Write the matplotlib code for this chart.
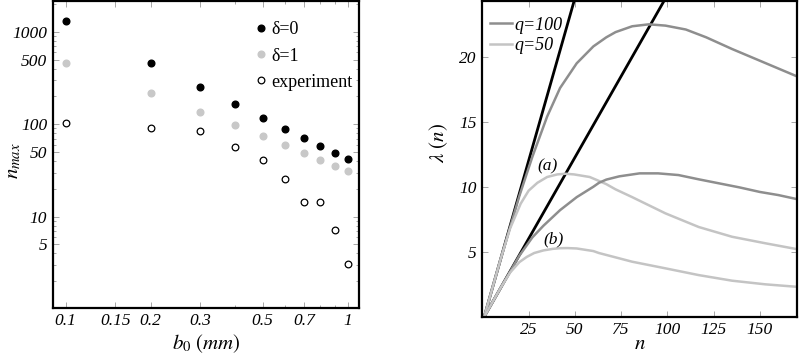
import matplotlib
matplotlib.use("Agg")
import matplotlib.pyplot as plt
from matplotlib.ticker import FixedLocator, NullFormatter

plt.rcParams['font.family'] = ['Liberation Serif', 'DejaVu Serif']
plt.rcParams['mathtext.fontset'] = 'stix'

# left panel: n_max against b0
b0 = [0.1, 0.2, 0.3, 0.4, 0.5, 0.6, 0.7, 0.8, 0.9, 1.0]
nmax_d0 = [1325, 465, 253, 165, 118, 89.5, 71.6, 58.2, 48.9, 41.8]
nmax_d1 = [465, 217, 137, 97.5, 74.7, 59.2, 48.9, 41.3, 35.6, 31.2]
nmax_exp = [102.6, 91.9, 84.1, 56.8, 41.3, 25.7, 14.3, 14.3, 7.16, 3.04]
b0_ticks = [0.1, 0.15, 0.2, 0.3, 0.5, 0.7, 1.0]
b0_labels = ["0.1", "0.15", "0.2", "0.3", "0.5", "0.7", "1"]
nmax_ticks = [5, 10, 50, 100, 500, 1000]

# right panel: lambda(n)
steep_n = [1, 50]
steep_lam = [0, 24.5]
flat_n = [1, 100]
flat_lam = [0, 24.75]

n_q100a = [1, 10, 20, 27, 35, 42, 51, 60, 67, 72, 81, 90, 99, 110, 121, 135, 150, 170]
lam_q100a = [0, 4.5, 9.3, 12.3, 15.4, 17.6, 19.5, 20.8, 21.5, 21.9, 22.35, 22.5, 22.4,
             22.1, 21.5, 20.6, 19.7, 18.5]
n_q50a = [1, 10, 15, 20.7, 25, 29.7, 35, 40.5, 45, 49.5, 58, 63, 67, 72, 81, 99, 117,
          135, 153, 170]
lam_q50a = [0, 4.5, 6.8, 8.7, 9.7, 10.3, 10.75, 10.95, 11.0, 10.95, 10.75, 10.45, 10.2,
            9.8, 9.2, 7.95, 6.9, 6.15, 5.65, 5.2]
n_q100b = [1, 10, 20, 27, 33, 42, 51, 60, 63, 67, 74, 85, 95, 106, 117, 128, 139, 150,
           160, 170]
lam_q100b = [0, 2.25, 4.7, 6.1, 7.0, 8.2, 9.2, 10.0, 10.3, 10.55, 10.8, 11.03, 11.03,
             10.9, 10.57, 10.26, 9.95, 9.6, 9.36, 9.05]
n_q50b = [1, 10, 15, 20, 24, 28, 33, 38, 42, 46, 51, 60, 63, 81, 99, 117, 135, 153, 170]
lam_q50b = [0, 2.25, 3.4, 4.2, 4.6, 4.9, 5.1, 5.22, 5.27, 5.28, 5.25, 5.05, 4.9, 4.23,
            3.72, 3.2, 2.77, 2.49, 2.3]

dark = '#8e8e8e'
light = '#c4c4c4'

fig = plt.figure(figsize=(8, 3.58), dpi=100)
ax1 = fig.add_axes([0.066, 0.1405, 0.383, 0.857])
ax2 = fig.add_axes([0.603, 0.1154, 0.393, 0.882])

tick_font = dict(family='Liberation Serif', style='italic', size=12.5)

# ---- left panel
ax1.set_xscale('log')
ax1.set_yscale('log')
ax1.plot(b0, nmax_d0, 'o', color='black', ms=4.8, label='δ=0')
ax1.plot(b0, nmax_d1, 'o', color='#c8c8c8', ms=4.8, label='δ=1')
ax1.plot(b0, nmax_exp, 'o', mfc='white', mec='black', mew=0.9, ms=4.8, label='experiment')
ax1.set_xlim(0.09, 1.1)
ax1.set_ylim(1.03, 2170)
ax1.xaxis.set_major_locator(FixedLocator(b0_ticks))
ax1.set_xticklabels(b0_labels, fontdict=tick_font)
ax1.xaxis.set_minor_locator(FixedLocator([0.4, 0.6, 0.8, 0.9]))
ax1.xaxis.set_minor_formatter(NullFormatter())
ax1.yaxis.set_major_locator(FixedLocator(nmax_ticks))
ax1.set_yticklabels([str(t) for t in nmax_ticks], fontdict=tick_font)
ax1.set_xlabel(r'$b_0\ (mm)$', fontsize=15, labelpad=2)
ax1.set_ylabel(r'$n_{max}$', fontsize=15, va='center')
ax1.yaxis.set_label_coords(-0.128, 0.48)
ax1.legend(loc='upper right', bbox_to_anchor=(1.026, 0.98), frameon=False, fontsize=13,
           handletextpad=0.1, handlelength=1.0, labelspacing=0.5, borderaxespad=0.4)

# ---- right panel
ax2.plot(steep_n, steep_lam, color='black', lw=2)
ax2.plot(flat_n, flat_lam, color='black', lw=2)
ax2.plot(n_q100a, lam_q100a, color=dark, lw=1.8, label='q=100')
ax2.plot(n_q50a, lam_q50a, color=light, lw=1.8, label='q=50')
ax2.plot(n_q100b, lam_q100b, color=dark, lw=1.8)
ax2.plot(n_q50b, lam_q50b, color=light, lw=1.8)
ax2.set_xlim(0, 170)
ax2.set_ylim(0, 24.3)
ax2.set_xticks([25, 50, 75, 100, 125, 150])
ax2.set_xticklabels(['25', '50', '75', '100', '125', '150'], fontdict=tick_font)
ax2.set_yticks([5, 10, 15, 20])
ax2.set_yticklabels(['5', '10', '15', '20'], fontdict=tick_font)
ax2.text(35, 11.6, '(a)', ha='center', va='center', fontsize=12.5, style='italic')
ax2.text(38.3, 5.95, '(b)', ha='center', va='center', fontsize=12.5, style='italic')
ax2.set_xlabel(r'$n$', fontsize=15, labelpad=-2)
ax2.set_ylabel(r'$\lambda\ (n)$', fontsize=15)
ax2.yaxis.set_label_coords(-0.103, 0.55)
leg = ax2.legend(loc='upper left', bbox_to_anchor=(-0.015, 0.99), frameon=False,
                 fontsize=13, handlelength=1.2, handletextpad=0.15, labelspacing=0.2,
                 borderaxespad=0.3)
for t in leg.get_texts():
    t.set_style('italic')

for ax in (ax1, ax2):
    for s in ax.spines.values():
        s.set_linewidth(1.6)
        s.set_color('black')
    ax.tick_params(which='both', direction='in', top=True, right=True,
                   color='#999999', width=0.6, pad=4)
    ax.tick_params(which='major', length=4)
    ax.tick_params(which='minor', length=2.5)

fig.savefig('out.png', dpi=100)
